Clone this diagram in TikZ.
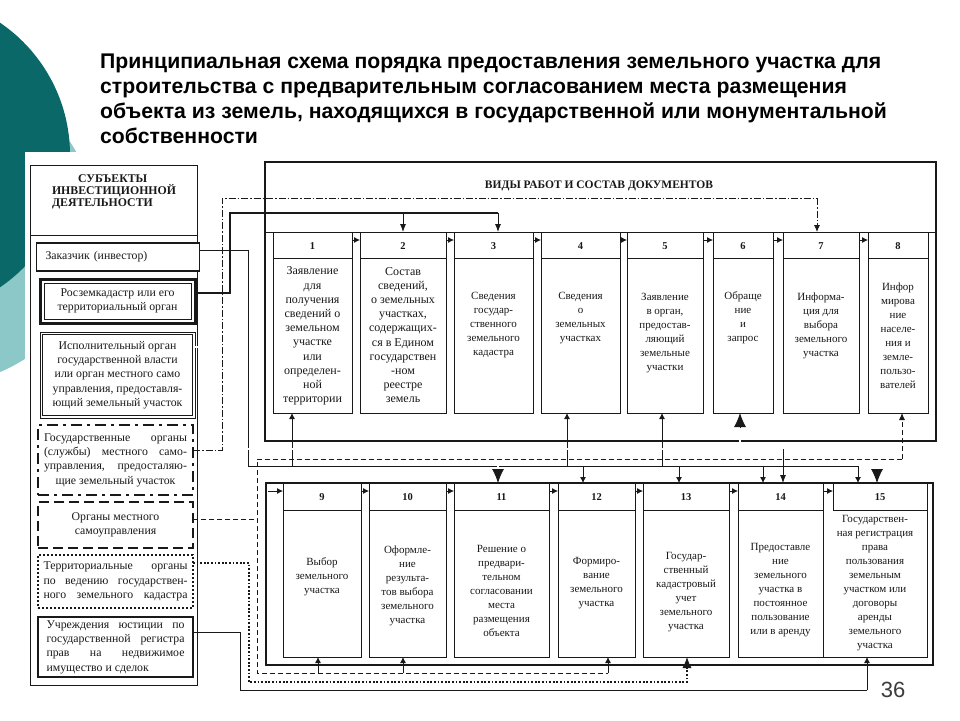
\documentclass[tikz,border=0pt]{standalone}
\usepackage{fontspec}
\setmainfont{Liberation Serif}
\newfontfamily\ttlfont{Liberation Sans}
\usetikzlibrary{arrows.meta,calc}
\definecolor{tealdark}{RGB}{10,104,104}
\definecolor{teallight}{RGB}{140,200,200}
\definecolor{ink}{RGB}{25,25,25}
\definecolor{pgnum}{RGB}{60,60,60}
\newcommand\bxfont{\fontsize{11}{14}\selectfont}
\newcommand\mkbox[9]{%
  \node[bx,minimum width={#3-#2},minimum height={#6-#4}] (#1) at ({(#2+#3)/2},{(#4+#6)/2}) {};
  \draw[bxln] (#2,#5) -- (#3,#5);
  \node[num] (#1n) at ({(#2+#3)/2},{(#4+#5)/2+1}) {#7};
  \node[txt] (#1t) at ({(#2+#3)/2},#9) {#8};
}
\begin{document}
\begin{tikzpicture}[x=1pt,y=-1pt,
  bx/.style={draw=ink,line width=0.9pt,fill=white,inner sep=0pt,outer sep=0pt},
  bxln/.style={draw=ink,line width=0.8pt},
  txt/.style={align=center,inner sep=0pt,font=\bxfont,text=ink},
  num/.style={inner sep=0pt,font=\bfseries\fontsize{10.5}{12}\selectfont,text=ink},
  frm/.style={draw=ink,line width=2.4pt},
  ln/.style={draw=ink,line width=0.8pt},
  sarr/.style={ln,-{Latex[length=6pt,width=6pt]}},
  marr/.style={ln,-{Latex[length=8pt,width=6pt]}},
  barr/.style={ln,-{Latex[length=14pt,width=12pt]}},
  dbl/.style={draw=ink,line width=0.7pt,double=white,double distance=1.3pt},
  thk/.style={draw=ink,line width=2.6pt},
  dd/.style={draw=ink,line width=0.8pt,dash pattern=on 7pt off 2pt on 1.5pt off 2pt},
  dsh/.style={draw=ink,line width=0.8pt,dash pattern=on 5pt off 3pt},
  dotl/.style={draw=ink,line width=1.8pt,dash pattern=on 1.8pt off 1.8pt},
  lbx/.style={draw=ink,fill=white,inner sep=0pt,outer sep=0pt,minimum width=155pt,align=center,font=\fontsize{11.8}{14.3}\selectfont,text=ink},
  ttl/.style={inner sep=0pt,font=\ttlfont\bfseries\fontsize{21.2}{25}\selectfont,text=black},
]
\useasboundingbox (0,0) rectangle (960,720);
% background
\fill[teallight] (-60,228) circle (156);
\fill[tealdark] (-90,155) circle (160);
\fill[white] (25,152) rectangle (960,720);

% title
\node[ttl,anchor=base west] (t1) at (100,68) {Принципиальная схема порядка предоставления земельного участка для};
\node[ttl,anchor=base west] (t2) at (100,93) {строительства с предварительным согласованием места размещения};
\node[ttl,anchor=base west] (t3) at (100,118) {объекта из земель, находящихся в государственной или монументальной};
\node[ttl,anchor=base west] (t4) at (100,143) {собственности};

% left column
\draw[draw=ink,line width=0.7pt] (30,165) rectangle (197,685);
\draw[draw=ink,line width=0.7pt] (30,235) -- (197,235);
\node[align=left,inner sep=0pt,font=\bfseries\fontsize{11.8}{11.8}\selectfont,text=ink] (lhead) at (114,192)
  {\hspace*{26pt}СУБЪЕКТЫ\\ИНВЕСТИЦИОННОЙ\\ДЕЯТЕЛЬНОСТИ};

\node[lbx,line width=1.8pt,minimum width=157pt,minimum height=28pt,align=left,text width=145pt,inner xsep=9pt] (zak) at (118,257) {Заказчик (инвестор)};
\node[lbx,line width=3pt,minimum height=44pt] (ros) at (117.5,301) {Росземкадастр или его\\территориальный орган};
\draw[ink,line width=0.7pt] ($(ros.north west)+(4,4)$) rectangle ($(ros.south east)+(-4,-4)$);
\node[lbx,line width=0.8pt,minimum height=86pt] (isp) at (117.5,375)
  {Исполнительный орган\\государственной власти\\или орган местного само\\управления, предоставля-\\ющий земельный участок};
\draw[ink,line width=0.7pt] ($(isp.north west)+(2.5,2.5)$) rectangle ($(isp.south east)+(-2.5,-2.5)$);
\node[lbx,line width=2.5pt,dash pattern=on 11pt off 5pt on 3pt off 5pt,minimum height=70pt] (gos) at (115.5,460)
  {\makebox[143pt][s]{Государственные органы}\\\makebox[143pt][s]{(службы) местного само-}\\\makebox[143pt][s]{управления, предосталяю-}\\щие земельный участок};
\node[lbx,line width=2.5pt,dash pattern=on 10pt off 5pt,minimum height=46pt] (org) at (115.5,525)
  {Органы местного\\самоуправления};
\node[lbx,line width=2.2pt,dash pattern=on 2pt off 2pt,minimum height=53pt] (ter) at (115.5,581.5)
  {\makebox[144pt][s]{Территориальные органы}\\\makebox[144pt][s]{по ведению государствен-}\\\makebox[144pt][s]{ного земельного кадастра}};
\node[lbx,line width=2pt,minimum height=60pt] (jus) at (115.5,647)
  {\makebox[138pt][s]{Учреждения юстиции по}\\\makebox[138pt][s]{государственной регистра}\\\makebox[138pt][s]{прав на недвижимое}\\\makebox[138pt][l]{имущество и сделок}};

% row frames
\draw[frm] (265,162) rectangle (936,441);
\draw[bxln] (265,232) -- (936,232);
\node[inner sep=0pt,font=\bfseries\fontsize{11.5}{13}\selectfont,text=ink] (hd) at (599,186) {ВИДЫ РАБОТ И СОСТАВ ДОКУМЕНТОВ};
\draw[frm] (266,483) rectangle (933,665);

% row 1 boxes
\renewcommand\bxfont{\fontsize{12}{14.2}\selectfont}
\mkbox{b1}{273}{352}{232}{258}{413}{1}{Заявление\\для\\получения\\сведений о\\земельном\\участке\\или\\определен-\\ной\\территории}{336}
\mkbox{b2}{360}{446}{232}{258}{413}{2}{Состав\\сведений,\\о земельных\\участках,\\содержащих-\\ся в Едином\\государствен\\-ном\\реестре\\земель}{335}
\renewcommand\bxfont{\fontsize{11}{14}\selectfont}
\mkbox{b3}{454}{533}{232}{258}{413}{3}{Сведения\\государ-\\ственного\\земельного\\кадастра}{325}
\mkbox{b4}{541}{620}{232}{258}{413}{4}{Сведения\\о\\земельных\\участках}{318}
\mkbox{b5}{627}{703}{232}{258}{413}{5}{Заявление\\в орган,\\предостав-\\ляющий\\земельные\\участки}{333}
\mkbox{b6}{713}{773}{232}{258}{413}{6}{Обраще\\ние\\и\\запрос}{318}
\mkbox{b7}{783}{859}{232}{258}{413}{7}{Информа-\\ция для\\выбора\\земельного\\участка}{326}
\mkbox{b8}{868}{928}{232}{258}{413}{8}{Инфор\\мирова\\ние\\населе-\\ния и\\земле-\\пользо-\\вателей}{336}

% row 2 boxes
\mkbox{b9}{283}{361}{483}{510}{657}{9}{Выбор\\земельного\\участка}{577}
\mkbox{b10}{369}{446}{483}{510}{657}{10}{Оформле-\\ние\\результа-\\тов выбора\\земельного\\участка}{586}
\mkbox{b11}{454}{549}{483}{510}{657}{11}{Решение о\\предвари-\\тельном\\согласовании\\места\\размещения\\объекта}{591}
\mkbox{b12}{558}{635}{483}{510}{657}{12}{Формиро-\\вание\\земельного\\участка}{583}
\mkbox{b13}{643}{729}{483}{510}{657}{13}{Государ-\\ственный\\кадастровый\\учет\\земельного\\участка}{592}
\mkbox{b14}{738}{823}{483}{510}{657}{14}{Предоставле\\ние\\земельного\\участка в\\постоянное\\пользование\\или в аренду}{590}
\node[bx,minimum width=104pt,minimum height=174pt] (b15) at (875,570) {};
\draw[bxln] (833,483) -- (833,510) -- (927,510);
\node[num] (b15n) at (880,497.5) {15};
\node[txt] (b15t) at (875,583) {Государствен-\\ная регистрация\\права\\пользования\\земельным\\участком или\\договоры\\аренды\\земельного\\участка};

% small arrows between boxes
\foreach \a/\b in {b1/b2,b2/b3,b3/b4,b4/b5,b5/b6,b6/b7,b7/b8}
  \draw[sarr] (\a.east |- 0,240) -- (\b.west |- 0,240);
\foreach \a/\b in {b9/b10,b10/b11,b11/b12,b12/b13,b13/b14}
  \draw[sarr] (\a.east |- 0,491) -- (\b.west |- 0,491);
\coordinate (fr2) at (268,491);
\draw[sarr] (fr2) -- (b9.west |- fr2);
\coordinate (h15) at (833,491);
\draw[sarr] (b14.east |- h15) -- (h15);

% Заказчик (thin)
\coordinate (zA) at (248,250);
\coordinate (zB) at (248,466);
\coordinate (zE) at (858,466);
\draw[ln] (zak.east |- zA) -- (zA) -- (zB) -- (zE);
\coordinate (z1) at (292,466);
\coordinate (z4) at (567,466);
\coordinate (z12) at (583,466);
\coordinate (z5) at (662,466);
\coordinate (z13) at (679,466);
\coordinate (z14) at (763,466);
\draw[sarr] (z1) -- (z1 |- b1.south);
\draw[sarr] (z4) -- (z4 |- b4.south);
\draw[sarr] (z5) -- (z5 |- b5.south);
\draw[sarr] (z12) -- (z12 |- b12.north);
\draw[sarr] (z13) -- (z13 |- b13.north);
\draw[sarr] (z14) -- (z14 |- b14.north);
\draw[sarr] (zE) -- (zE |- b15.north);

% Росземкадастр (thick)
\coordinate (rA) at (230,293);
\coordinate (rB) at (230,213);
\coordinate (r2) at (403,213);
\coordinate (rE) at (498,213);
\draw[thk] (ros.east |- rA) -- (rA) -- (rB) -- (rE);
\draw[marr] (r2) -- (r2 |- b2.north);
\draw[marr] (rE) -- (rE |- b3.north);

% Исполнительный орган (double)
\coordinate (iA) at (240,347);
\coordinate (iB) at (240,449);
\coordinate (iE) at (877,449);
\coordinate (i11) at (498,449);
\coordinate (i6) at (740,449);
\coordinate (i14) at (783,449);
\draw[dbl] (isp.east |- iA) -- (iA) -- (iB) -- (iE);
\draw[dbl,shorten >=13pt] (i11) -- (i11 |- b11.north);
\draw[barr] ($(i11 |- b11.north)+(0,-14)$) -- (i11 |- b11.north);
\draw[dbl,shorten >=13pt] (i6) -- (i6 |- b6.south);
\draw[barr] ($(i6 |- b6.south)+(0,14)$) -- (i6 |- b6.south);
\draw[dbl,shorten >=13pt] (iE) -- (iE |- b15.north);
\draw[barr] ($(iE |- b15.north)+(0,-14)$) -- (iE |- b15.north);
\draw[marr] (i14) -- (i14 |- b14.north);

% Государственные органы (dash-dot)
\coordinate (gA) at (222,450);
\coordinate (gB) at (222,198);
\coordinate (gE) at (817,198);
\draw[dd] (gos.east |- gA) -- (gA) -- (gB) -- (gE);
\draw[dd,-{Latex[length=7pt,width=6pt]}] (gE) -- (gE |- b7.north);

% Органы местного самоуправления (dashed)
\coordinate (oA) at (257,519);
\coordinate (oT) at (257,459);
\coordinate (oB) at (257,673);
\coordinate (oE) at (902,459);
\coordinate (oE2) at (608,673);
\coordinate (o9) at (318,673);
\coordinate (o10) at (403,673);
\draw[dsh] (org.east |- oA) -- (oA);
\draw[dsh] (oE) -- (oT) -- (oB) -- (oE2);
\draw[dsh,-{Latex[length=7pt,width=6pt]}] (oE) -- (oE |- b8.south);
\draw[sarr] (o9) -- (o9 |- b9.south);
\draw[sarr] (o10) -- (o10 |- b10.south);
\draw[sarr] (oE2) -- (oE2 |- b12.south);

% Территориальные органы (dotted)
\coordinate (tA) at (249,563);
\coordinate (tB) at (249,682);
\coordinate (tE) at (687,682);
\draw[dotl] (ter.east |- tA) -- (tA) -- (tB) -- (tE) -- ($(tE |- b13.south)+(0,10)$);
\draw[ln,-{Latex[length=11pt,width=9pt]}] ($(tE |- b13.south)+(0,11)$) -- (tE |- b13.south);

% Учреждения юстиции (thin)
\coordinate (jA) at (240,632);
\coordinate (jB) at (240,690);
\coordinate (jE) at (867,690);
\draw[ln] (jus.east |- jA) -- (jA) -- (jB) -- (jE);
\draw[sarr] (jE) -- (jE |- b15.south);

% page number
\node[inner sep=0pt,font=\ttlfont\fontsize{22}{24}\selectfont,text=pgnum] (pn) at (893,690) {36};
\end{tikzpicture}
\end{document}
